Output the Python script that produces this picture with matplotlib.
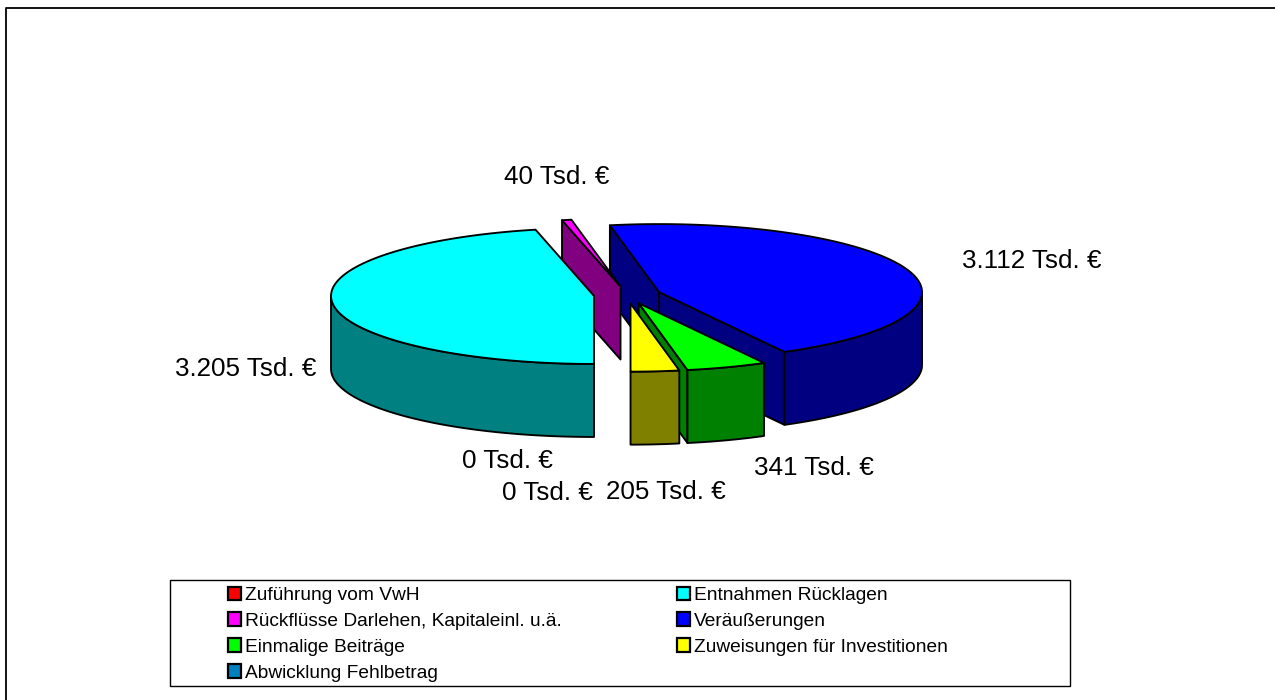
import numpy as np
import matplotlib
matplotlib.use("Agg")
import matplotlib.pyplot as plt
from matplotlib.patches import Polygon, Rectangle, Patch

plt.rcParams['font.family'] = ['Liberation Sans', 'DejaVu Sans']

# --- Data ---
categories = ["Zuführung vom VwH", "Entnahmen Rücklagen", "Rückflüsse Darlehen, Kapitaleinl. u.ä.",
              "Veräußerungen", "Einmalige Beiträge", "Zuweisungen für Investitionen",
              "Abwicklung Fehlbetrag"]
values = [0, 3205, 40, 3112, 341, 205, 0]
top_colors = ["#FF0000", "#00FFFF", "#FF00FF", "#0000FF", "#00FF00", "#FFFF00", "#0080C0"]
side_colors = ["#800000", "#008080", "#800080", "#000080", "#008000", "#808000", "#004060"]

# --- Pie geometry (pixels) ---
CX, CY = 627.4, 295.0
RX, RY = 263.0, 68.0
DEPTH = 73.0
EXPLODE = 0.1277
LW = 1.35

# back to front
draw_order = [3, 2, 1, 4, 5]

# label centres, same order as values
label_pos = [(507, 461), (246, 369), (557, 177.5), (1032, 261), (814, 468), (666, 492), (547.5, 493)]

fig = plt.figure(figsize=(12.75, 7.0), dpi=100)
ax = fig.add_axes([0, 0, 1, 1])
ax.set_xlim(0, 1275)
ax.set_ylim(700, 0)
ax.axis("off")

# outer frame: only left and top edges show in the reference
ax.plot([6, 6, 1275], [700, 7.5, 7.5], color="black", lw=1.3)


def rim_xy(theta, ox, oy):
    # theta: degrees clockwise from 6 o'clock
    t = np.radians(theta)
    return ox - RX * np.sin(t), oy + RY * np.cos(t)


def add_poly(x, y, color):
    ax.add_patch(Polygon(np.column_stack([x, y]), closed=True, fc=color, ec="black",
                         lw=LW, joinstyle="round"))


total = sum(values)
edges = np.cumsum([0] + values) / total * 360

for i in draw_order:
    a0, a1 = edges[i], edges[i + 1]
    mid = np.radians((a0 + a1) / 2)
    ox = CX - EXPLODE * RX * np.sin(mid)
    oy = CY + EXPLODE * RY * np.cos(mid)

    # cut faces: visible when moving straight down from the edge leaves the top face
    for a in (a0, a1):
        ex, ey = rim_xy(a, ox, oy)
        bx, by = rim_xy((a0 + a1) / 2, ox, oy)
        cross = (ex - ox) * (by - oy) - (ey - oy) * (bx - ox)
        if cross * (ex - ox) < 0 and abs(ex - ox) > 1:
            add_poly([ox, ex, ex, ox], [oy, ey, ey + DEPTH, oy + DEPTH], side_colors[i])

    # outer rim, only the front half of the ellipse
    for lo, hi in ((0, 90), (270, 360)):
        s0, s1 = max(a0, lo), min(a1, hi)
        if s1 > s0:
            th = np.linspace(s0, s1, 80)
            rx, ry = rim_xy(th, ox, oy)
            add_poly(np.r_[rx, rx[::-1]], np.r_[ry, ry[::-1] + DEPTH], side_colors[i])

    # top face
    th = np.linspace(a0, a1, 200)
    rx, ry = rim_xy(th, ox, oy)
    add_poly(np.r_[ox, rx], np.r_[oy, ry], top_colors[i])

# --- Value labels ---
for v, (lx, ly) in zip(values, label_pos):
    txt = f"{v:,}".replace(",", ".") + " Tsd. €"
    ax.text(lx, ly, txt, ha="center", va="center", fontsize=18.7, color="black")

# --- Legend ---
ax.add_patch(Rectangle((169.5, 579.5), 900, 106, fill=False, ec="black", lw=1.0))
handles = [Patch(fc=c, ec="black", lw=1.6) for c in top_colors]
# matplotlib fills columns first, the reference reads row by row
col_order = [0, 2, 4, 6, 1, 3, 5]
ax.legend([handles[i] for i in col_order], [categories[i] for i in col_order],
          ncols=2, frameon=False, fontsize=13.74, loc="upper left",
          bbox_to_anchor=(228, 586.5), bbox_transform=ax.transData,
          borderpad=0, borderaxespad=0, handlelength=0.7, handleheight=0.7,
          handletextpad=0.2, labelspacing=0.45, columnspacing=6.02)

fig.savefig("out.png", dpi=100)
